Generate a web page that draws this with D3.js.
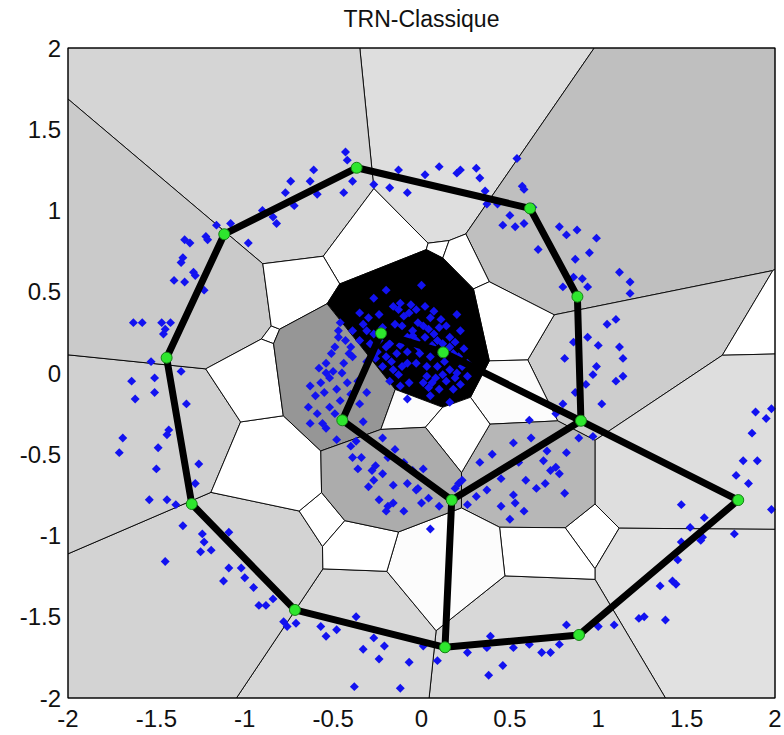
<!DOCTYPE html>
<html>
<head>
<meta charset="utf-8">
<script src="https://cdn.jsdelivr.net/npm/d3@7"></script>
<style>
  body { margin: 0; background: #fff; }
  svg { display: block; }
  text { font-family: "Liberation Sans", Arial, sans-serif; fill: #111; }
</style>
</head>
<body>
<svg width="784" height="735"></svg>
<script>
const title = "TRN-Classique";
const xTicks = [-2, -1.5, -1, -0.5, 0, 0.5, 1, 1.5, 2];
const yTicks = [-2, -1.5, -1, -0.5, 0, 0.5, 1, 1.5, 2];

// neurons (green) of the network
const nodes = [
  [-0.367, 1.263], [0.614, 1.013], [0.882, 0.470], [0.902, -0.294],
  [1.792, -0.782], [0.891, -1.612], [0.133, -1.688], [-0.716, -1.458],
  [-1.300, -0.806], [-1.442, 0.094], [-1.116, 0.854], [-0.229, 0.244],
  [0.123, 0.127], [-0.448, -0.291], [0.171, -0.782]
];

// TRN edges (index pairs into nodes)
const links = [
  [0, 1], [1, 2], [2, 3], [3, 4], [4, 5], [5, 6], [6, 7], [7, 8], [8, 9],
  [9, 10], [10, 0], [11, 13], [13, 14], [14, 3], [12, 3], [14, 6], [11, 12]
];

// data samples on the outer ring
const ringSamples = [
  [-0.43,1.36],[-0.42,1.31],[-0.61,1.25],[-0.74,1.18],[-0.63,1.18],[-0.59,1.10],[-0.77,1.11],[-0.72,1.03],
  [-0.44,1.11],[-0.39,1.18],[-0.90,1.00],[-0.84,0.96],[-0.82,0.92],[-1.16,0.91],[-1.08,0.92],[-0.98,0.80],
  [-1.22,0.84],[-1.21,0.82],[-1.34,0.82],[-1.31,0.80],[-1.35,0.71],[-1.36,0.68],[-1.29,0.62],[-1.28,0.60],
  [-1.40,0.57],[-1.34,0.56],[-1.23,0.51],[-1.63,0.31],[-1.58,0.31],[-1.47,0.31],[-1.42,0.31],[-1.45,0.27],
  [-1.46,0.24],[-1.53,0.07],[-0.27,1.16],[-0.18,1.14],[-0.08,1.11],[-0.13,1.25],
  [0.10,1.27],[0.20,1.23],[0.22,1.25],[0.31,1.26],[0.33,1.20],[0.02,1.22],[0.36,1.12],[0.37,1.04],
  [0.43,1.04],[0.54,1.32],[0.57,1.15],[0.58,1.13],[0.63,1.02],[0.50,0.97],[0.46,0.91],[0.53,0.90],
  [0.58,0.92],[0.78,0.90],[0.82,0.85],[0.88,0.88],[0.99,0.83],[0.66,0.76],[0.87,0.70],[0.95,0.74],
  [1.12,0.62],[1.18,0.56],[1.18,0.49],[0.86,0.59],[0.91,0.58],[0.80,0.53],[0.94,0.53],[1.05,0.30],
  [1.10,0.33],[0.94,0.22],[0.86,0.19],[1.00,0.17],[1.12,0.16],[1.14,0.09],[0.81,0.09],[0.99,0.04],
  [-1.64,-0.05],[-1.51,-0.03],[-1.62,-0.16],[-1.51,-0.12],[-1.36,0.01],[-1.33,-0.19],[-1.43,-0.35],[-1.44,-0.38],
  [-1.69,-0.40],[-1.71,-0.49],[-1.49,-0.46],[-1.50,-0.59],[-1.26,-0.56],[-1.28,-0.68],[-1.54,-0.78],[-1.44,-0.78],
  [-1.39,-0.81],[-1.35,-0.94],[-1.24,-0.99],[-1.23,-1.04],[-1.09,-0.98],[-1.25,-1.10],[-1.19,-1.09],[-1.45,-1.16],
  [-1.09,-1.20],[-1.02,-1.20],[-1.12,-1.28],[-1.00,-1.26],[-0.95,-1.32],[-0.92,-1.43],[-0.88,-1.43],[-0.84,-1.39],
  [-0.78,-1.53],[-0.71,-1.54],[-0.76,-1.56],[-0.57,-1.56],[-0.54,-1.62],[-0.48,-1.58],[-0.37,-1.50],[-0.27,-1.63],
  [-0.21,-1.68],[-0.33,-1.70],[-0.24,-1.76],[-0.07,-1.78],[-0.38,-1.93],[-0.12,-1.94],
  [0.97,-0.01],[0.93,-0.07],[1.10,-0.05],[1.14,-0.02],[0.87,-0.12],[1.02,-0.19],[0.80,-0.19],[0.76,-0.25],
  [0.89,-0.40],[0.97,-0.39],
  [1.89,-0.24],[1.98,-0.22],[1.95,-0.28],[1.87,-0.37],[1.82,-0.54],[1.90,-0.54],[1.78,-0.63],[1.85,-0.68],
  [1.98,-0.84],[1.47,-0.81],[1.52,-0.95],[1.60,-0.89],[1.77,-0.99],[1.47,-1.04],[1.58,-1.03],[1.59,-1.01],
  [1.45,-1.15],[1.35,-1.31],[1.42,-1.28],[1.44,-1.30],[1.23,-1.51],[1.26,-1.50],[1.38,-1.52],[1.09,-1.55],
  [0.82,-1.55],[1.00,-1.56],[0.78,-1.67],[0.73,-1.72],[0.68,-1.72],[0.61,-1.67],[0.52,-1.69],[0.39,-1.62],
  [0.37,-1.69],[0.26,-1.72],[0.09,-1.77],[0.01,-1.68],[0.46,-1.80],[0.38,-1.86]
];

// data samples of the inner ring
const innerSamples = [
  [0.61,-0.29],[0.52,-0.43],[0.71,-0.48],[0.69,-0.54],[0.73,-0.60],[0.76,-0.58],[0.78,-0.62],[0.82,-0.49],
  [0.33,-0.55],[0.59,-0.66],[0.65,-0.71],[0.81,-0.74],[0.52,-0.75],[0.53,-0.80],[0.45,-0.82],[0.50,-0.90],
  [0.37,-0.72],[0.31,-0.76],[0.23,-0.66],[0.19,-0.71],[0.05,-0.96],[0.01,-0.59],[-0.03,-0.72],[0.04,-0.77],
  [0.10,-0.82],[0.26,-0.81],[0.21,-0.68],
  [0.40,-0.50],[0.55,-0.55],[0.62,-0.40],[0.45,-0.65],[0.70,-0.68],[0.58,-0.85],
  [-0.63,-0.08],[-0.57,-0.06],[-0.54,0.00],[-0.50,0.01],[-0.48,-0.10],[-0.42,-0.06],[-0.31,-0.12],[-0.64,-0.21],
  [-0.52,-0.21],[-0.46,-0.17],[-0.35,-0.19],[-0.63,-0.31],[-0.56,-0.31],[-0.54,-0.34],[-0.48,-0.41],[-0.40,-0.45],
  [-0.39,-0.52],[-0.34,-0.52],[-0.36,-0.59],[-0.28,-0.60],[-0.26,-0.57],[-0.19,-0.52],[-0.15,-0.47],[-0.16,-0.69],
  [-0.05,-0.60],[-0.24,-0.78],[-0.19,-0.82],[-0.16,-0.80],[-0.10,-0.85],[-0.20,-0.85],[-0.02,-0.71],[-0.37,-0.42],
  [-0.27,-0.66],
  [-0.22,-0.40],[-0.10,-0.55],[-0.30,-0.70],[-0.08,-0.68],[-0.22,-0.62],[0.00,-0.80],
  [-0.46,0.31],[-0.47,0.22],[-0.49,0.16],[-0.40,0.16],[-0.51,0.12],[-0.54,0.06],[-0.44,0.06],[-0.39,0.10],
  [-0.60,-0.14],[-0.55,-0.12],[-0.49,-0.25],[-0.44,-0.28],[-0.40,-0.13],[-0.36,-0.05],[-0.58,0.03],[-0.45,0.00],
  [-0.52,-0.03],[-0.41,0.12],[-0.47,0.26],[-0.43,0.20],[-0.33,-0.30],[-0.59,-0.25]
];

// dense central cluster
const coreSamples = [
  [-0.20,0.51],[0.00,0.54],[-0.27,0.46],[-0.13,0.39],[-0.03,0.39],[-0.35,0.37],[-0.16,0.41],[-0.07,0.37],
  [0.05,0.34],[0.20,0.36],[-0.39,0.26],[-0.31,0.26],[-0.22,0.28],[-0.11,0.29],[-0.05,0.26],[0.01,0.29],
  [0.14,0.29],[0.22,0.26],[-0.35,0.20],[-0.29,0.18],[-0.18,0.18],[-0.08,0.22],[-0.03,0.20],[0.09,0.20],
  [0.16,0.22],[0.24,0.15],[-0.25,0.13],[-0.20,0.10],[-0.14,0.12],[-0.08,0.13],[-0.01,0.12],[0.05,0.10],
  [0.16,0.16],[0.21,0.10],[0.26,0.06],[-0.31,0.07],[-0.22,0.04],[-0.16,0.02],[-0.08,0.06],[-0.03,0.06],
  [0.03,0.04],[0.09,0.04],[0.16,0.02],[0.20,0.00],[-0.18,-0.05],[-0.12,-0.08],[-0.07,-0.06],[0.01,-0.06],
  [0.06,-0.06],[0.14,-0.05],[0.22,-0.07],[-0.08,-0.16],[0.05,-0.14],[0.16,-0.18],
  [-0.12,0.43],[-0.06,0.42],[0.02,0.41],[0.07,0.38],[-0.10,0.35],[0.11,0.33],
  [-0.02,0.31],[0.04,0.27],[0.07,0.24],[-0.05,0.23],[0.02,0.22],[0.06,0.17],[-0.02,0.16],[0.10,0.28],
  [0.12,0.18],[0.19,0.19],[0.11,0.12],[0.18,0.12],[0.13,0.07],[0.23,0.04],[0.12,-0.01],[0.19,-0.03],
  [-0.24,0.20],[-0.20,0.16],[-0.12,0.17],[-0.17,0.07],[-0.11,0.04],[-0.26,0.09],[-0.13,-0.01],
  [0.03,-0.02],[0.08,-0.03],[0.04,-0.09],[0.10,-0.10],[0.18,-0.10],[0.26,-0.02],
  [-0.30,0.34],[-0.24,0.36],[-0.33,0.30],[-0.27,0.24],[-0.15,0.30]
];

const samples = ringSamples.concat(innerSamples, coreSamples);

const width = 784, height = 735;
const margin = {top: 48, right: 9, bottom: 37, left: 68};

const svg = d3.select("svg");

const x = d3.scaleLinear().domain([-2, 2]).range([margin.left, width - margin.right]);
const y = d3.scaleLinear().domain([-2, 2]).range([height - margin.bottom, margin.top]);

// keep the part of poly closer to a than to b (Sutherland-Hodgman)
function clipHalf(poly, a, b) {
  const nx = b[0] - a[0], ny = b[1] - a[1];
  const c = (b[0] * b[0] + b[1] * b[1] - a[0] * a[0] - a[1] * a[1]) / 2;
  const f = p => p[0] * nx + p[1] * ny - c;
  const out = [];
  for (let m = 0; m < poly.length; m++) {
    const p = poly[m], q = poly[(m + 1) % poly.length];
    const fp = f(p), fq = f(q);
    if (fp <= 0) out.push(p);
    if ((fp < 0 && fq > 0) || (fp > 0 && fq < 0)) {
      const t = fp / (fp - fq);
      out.push([p[0] + t * (q[0] - p[0]), p[1] + t * (q[1] - p[1])]);
    }
  }
  return out;
}

// second order voronoi: region where i and j are the two closest neurons
let cells = [];
for (let i = 0; i < nodes.length; i++) {
  for (let j = i + 1; j < nodes.length; j++) {
    let poly = [[-2, -2], [2, -2], [2, 2], [-2, 2]];
    nodes.forEach((k, idx) => {
      if (idx === i || idx === j || poly.length < 3) return;
      poly = clipHalf(poly, nodes[i], k);
      poly = clipHalf(poly, nodes[j], k);
    });
    if (poly.length < 3 || Math.abs(d3.polygonArea(poly)) < 1e-6) continue;
    const hits = samples.filter(s => d3.polygonContains(poly, s)).length;
    cells.push({pair: [i, j], poly: poly, hits: hits});
  }
}

const shade = d3.scaleLinear()
    .domain([0, d3.max(cells, c => c.hits)])
    .range(["#ffffff", "#000000"]);

const line = d3.line().x(d => x(d[0])).y(d => y(d[1]));

svg.append("g")
    .selectAll("path")
    .data(cells)
    .join("path")
    .attr("d", d => line(d.poly) + "Z")
    .attr("fill", d => shade(d.hits))
    .attr("stroke", "#000")
    .attr("stroke-width", 0.9)
    .attr("stroke-linejoin", "round");

// samples (diamonds)
svg.append("g")
    .selectAll("path")
    .data(samples)
    .join("path")
    .attr("d", d3.symbol(d3.symbolSquare, 40))
    .attr("transform", d => "translate(" + x(d[0]) + "," + y(d[1]) + ") rotate(45)")
    .attr("fill", "#1212f0");

// edges
svg.append("g")
    .selectAll("line")
    .data(links)
    .join("line")
    .attr("x1", d => x(nodes[d[0]][0]))
    .attr("y1", d => y(nodes[d[0]][1]))
    .attr("x2", d => x(nodes[d[1]][0]))
    .attr("y2", d => y(nodes[d[1]][1]))
    .attr("stroke", "#000")
    .attr("stroke-width", 7)
    .attr("stroke-linecap", "round");

// neurons
svg.append("g")
    .selectAll("circle")
    .data(nodes)
    .join("circle")
    .attr("cx", d => x(d[0]))
    .attr("cy", d => y(d[1]))
    .attr("r", 5.5)
    .attr("fill", "#2ee62e")
    .attr("stroke", "#158015")
    .attr("stroke-width", 1);

// frame
svg.append("rect")
    .attr("x", x(-2))
    .attr("y", y(2))
    .attr("width", x(2) - x(-2))
    .attr("height", y(-2) - y(2))
    .attr("fill", "none")
    .attr("stroke", "#000")
    .attr("stroke-width", 1);

// tick labels
svg.append("g")
    .selectAll("text")
    .data(xTicks)
    .join("text")
    .attr("x", d => x(d))
    .attr("y", 727)
    .attr("text-anchor", "middle")
    .attr("font-size", 24)
    .text(d => d);

svg.append("g")
    .selectAll("text")
    .data(yTicks)
    .join("text")
    .attr("x", 61)
    .attr("y", d => y(d))
    .attr("dy", "0.36em")
    .attr("text-anchor", "end")
    .attr("font-size", 24)
    .text(d => d);

svg.append("text")
    .attr("x", (x(-2) + x(2)) / 2)
    .attr("y", 27)
    .attr("text-anchor", "middle")
    .attr("font-size", 23)
    .text(title);
</script>
</body>
</html>
